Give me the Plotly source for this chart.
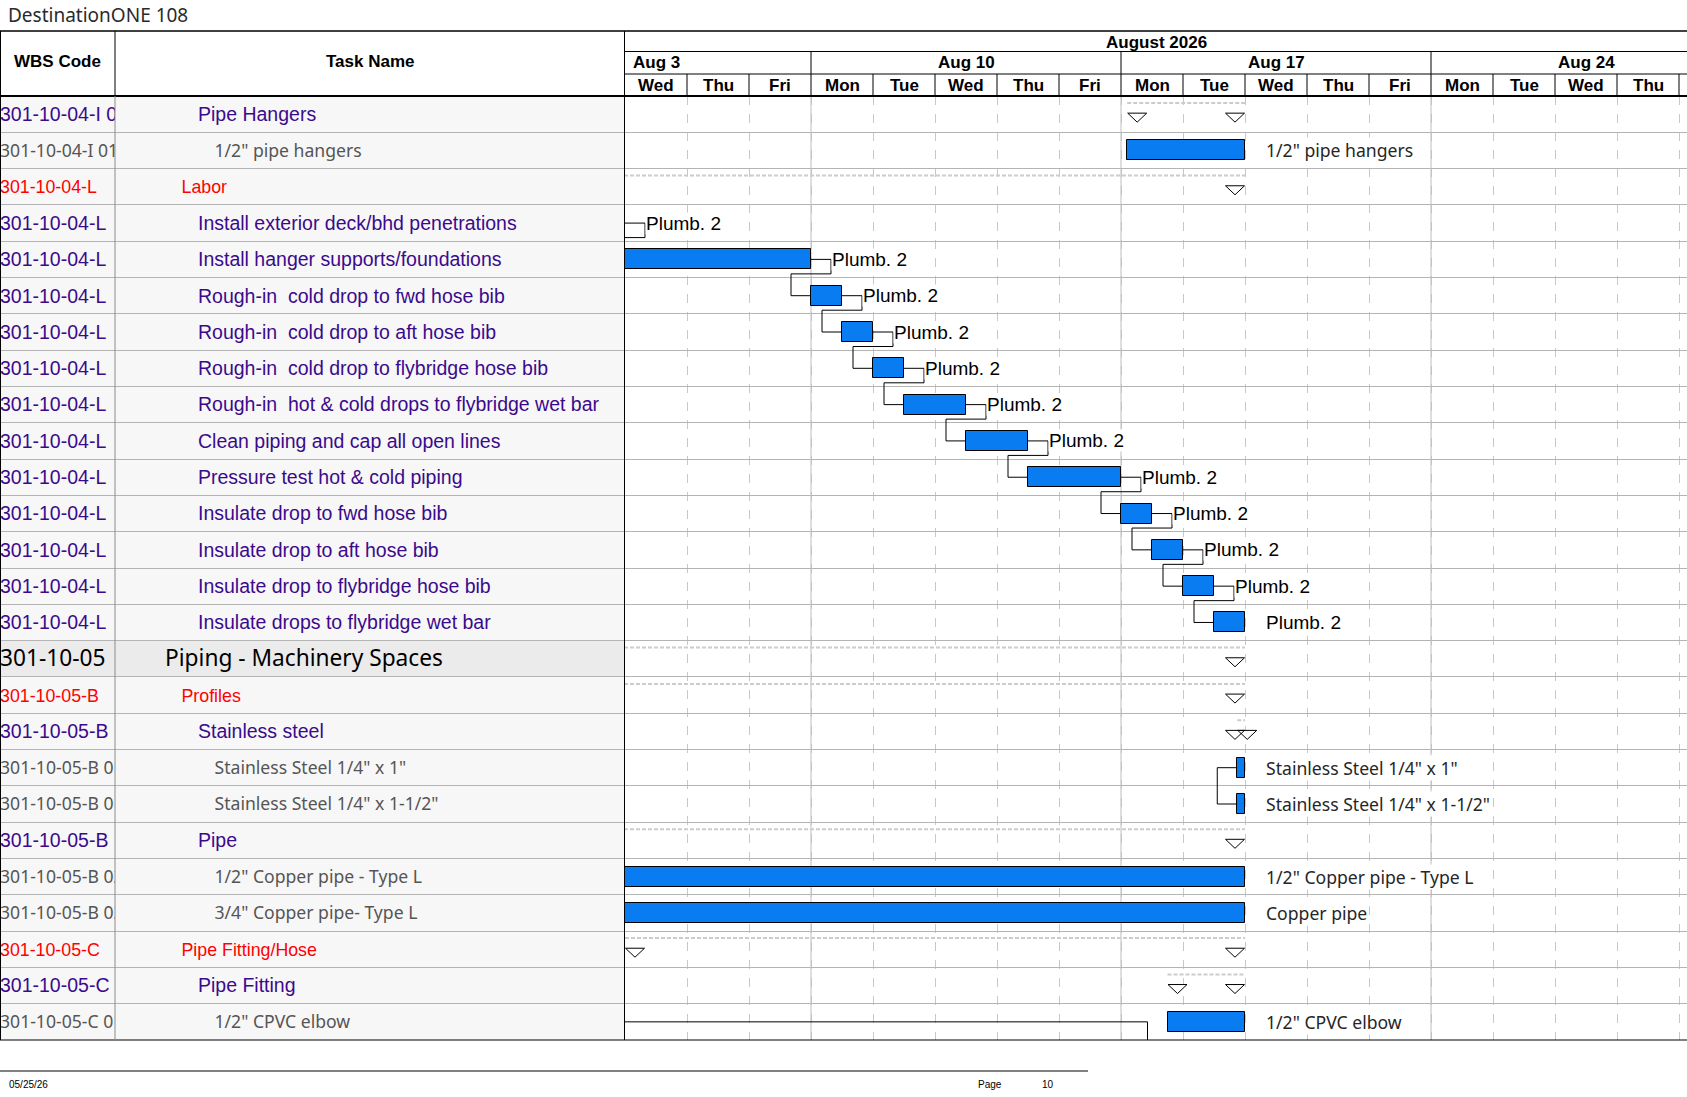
import plotly.graph_objects as go

W, H = 1687, 1097
TOP, BOTTOM = 96, 1040          # rows area in px
WBS_RIGHT, TASK_RIGHT = 115, 625
DAY_PX = 62
N_ROWS = 26
ROW_PX = (BOTTOM - TOP) / N_ROWS

# ---------------- data ----------------
wbs_codes = [
    "301-10-04-I 01", "301-10-04-I 01.1", "301-10-04-L", "301-10-04-L", "301-10-04-L",
    "301-10-04-L", "301-10-04-L", "301-10-04-L", "301-10-04-L", "301-10-04-L",
    "301-10-04-L", "301-10-04-L", "301-10-04-L", "301-10-04-L", "301-10-04-L",
    "301-10-05", "301-10-05-B", "301-10-05-B", "301-10-05-B 01.1", "301-10-05-B 01.2",
    "301-10-05-B", "301-10-05-B 02.1", "301-10-05-B 02.2", "301-10-05-C", "301-10-05-C",
    "301-10-05-C 01.1",
]
task_names = [
    "Pipe Hangers", '1/2" pipe hangers', "Labor",
    "Install exterior deck/bhd penetrations", "Install hanger supports/foundations",
    "Rough-in\u00a0 cold drop to fwd hose bib", "Rough-in\u00a0 cold drop to aft hose bib",
    "Rough-in\u00a0 cold drop to flybridge hose bib", "Rough-in\u00a0 hot & cold drops to flybridge wet bar",
    "Clean piping and cap all open lines", "Pressure test hot & cold piping",
    "Insulate drop to fwd hose bib", "Insulate drop to aft hose bib",
    "Insulate drop to flybridge hose bib", "Insulate drops to flybridge wet bar",
    "Piping - Machinery Spaces", "Profiles", "Stainless steel",
    'Stainless Steel 1/4" x 1"', 'Stainless Steel 1/4" x 1-1/2"', "Pipe",
    '1/2" Copper pipe - Type L', '3/4" Copper pipe- Type L', "Pipe Fitting/Hose",
    "Pipe Fitting", '1/2" CPVC elbow',
]
outline_level = [3, 4, 2, 3, 3, 3, 3, 3, 3, 3, 3, 3, 3, 3, 3, 1, 2, 3, 4, 4, 3, 4, 4, 2, 3, 4]
row_kind = ["summary", "material", "group"] + ["task"] * 12 + [
    "top", "group", "summary", "material", "material", "summary",
    "material", "material", "group", "summary", "material"]

month_label = "August 2026"
week_labels = ["Aug 3", "Aug 10", "Aug 17", "Aug 24"]
day_labels = ["Wed", "Thu", "Fri", "Mon", "Tue", "Wed", "Thu", "Fri", "Mon",
              "Tue", "Wed", "Thu", "Fri", "Mon", "Tue", "Wed", "Thu"]

# task bars, in working days from Wed Aug 5
bar_rows = [1, 3, 4, 5, 6, 7, 8, 9, 10, 11, 12, 13, 14, 18, 19, 21, 22, 25]
bar_start = [8.1, -1.0, 0.0, 3.0, 3.5, 4.0, 4.5, 5.5, 6.5, 8.0, 8.5, 9.0, 9.5,
             9.875, 9.875, -3.0, -3.0, 8.75]
bar_finish = [10.0, 0.0, 3.0, 3.5, 4.0, 4.5, 5.5, 6.5, 8.0, 8.5, 9.0, 9.5, 10.0,
              10.0, 10.0, 10.0, 10.0, 10.0]
bar_labels = ['1/2" pipe hangers'] + ["Plumb. 2"] * 12 + [
    'Stainless Steel 1/4" x 1"', 'Stainless Steel 1/4" x 1-1/2"',
    '1/2" Copper pipe - Type L', "Copper pipe", '1/2" CPVC elbow']

summary_rows = [0, 2, 15, 16, 17, 20, 23, 24]
summary_start = [8.1, -5.0, -5.0, -5.0, 9.875, -3.0, 0.0, 8.75]
summary_finish = [10.0, 10.0, 10.0, 10.0, 10.0, 10.0, 10.0, 10.0]

fs_links = [(3, 4), (4, 5), (5, 6), (6, 7), (7, 8), (8, 9), (9, 10),
            (10, 11), (11, 12), (12, 13), (13, 14)]
ss_links = [(18, 19)]
offpage_links = [25]

# ---------------- styles ----------------
PURPLE = "#3b0a8c"
ARIAL = "Liberation Sans, Arial, sans-serif"
SEGOE = "Noto Sans, Open Sans, sans-serif"
kind_style = {
    "top": (SEGOE, 22.7, "#000000"),
    "group": (ARIAL, 17.8, "#ff0000"),
    "summary": (ARIAL, 19.5, PURPLE),
    "task": (ARIAL, 19.5, PURPLE),
    "material": (SEGOE, 17.6, "#555555"),
}

GAP = 20 / DAY_PX           # link stub / label offset (days)
DROP = 14.5 / ROW_PX        # link drop below bar centre (rows)
TRI_IN = 10 / DAY_PX
TRI_HW = 9.5 / DAY_PX
TEXT_DY = 2 / ROW_PX        # table text sits a little below row centre

xmax = (W - TASK_RIGHT) / DAY_PX


def py(y):
    # paper y is relative to the plot area (between the margins)
    return (BOTTOM - y) / (BOTTOM - TOP)


def px(x):
    return x / W


fig = go.Figure()

# table text
centers = [r + 0.5 + TEXT_DY for r in range(N_ROWS)]
fams = [kind_style[k][0] for k in row_kind]
sizes = [kind_style[k][1] for k in row_kind]
cols = [kind_style[k][2] for k in row_kind]

fig.add_trace(go.Scatter(
    x=[0] * N_ROWS, y=centers, text=wbs_codes, mode="text",
    textposition="middle right", cliponaxis=True, hoverinfo="skip",
    textfont=dict(family=fams, size=sizes, color=cols),
    xaxis="x", yaxis="y", showlegend=False))

indent = [50 + (lv - 1) * 16.5 for lv in outline_level]
fig.add_trace(go.Scatter(
    x=indent, y=centers, text=task_names, mode="text",
    textposition="middle right", cliponaxis=True, hoverinfo="skip",
    textfont=dict(family=fams, size=sizes, color=cols),
    xaxis="x2", yaxis="y", showlegend=False))

# summary dashed lines and triangles
dx, dy, tx, ty = [], [], [], []
for r, s, f in zip(summary_rows, summary_start, summary_finish):
    yl = r + 7 / ROW_PX
    dx += [max(s, -0.5), f, None]
    dy += [yl, yl, None]
    yc = r + 0.5
    top, bot = yc - 1 / ROW_PX, yc + 8 / ROW_PX
    cs = []
    if s >= 0:
        cs.append(s + TRI_IN)
    cs.append(f - TRI_IN)
    for c in cs:
        tx += [c - TRI_HW, c + TRI_HW, c, c - TRI_HW, None]
        ty += [top, top, bot, top, None]

fig.add_trace(go.Scatter(
    x=dx, y=dy, mode="lines", xaxis="x3", yaxis="y", hoverinfo="skip",
    line=dict(color="#cccccc", width=2, dash="4px,2px"), showlegend=False))

# links
bar_of = {r: i for i, r in enumerate(bar_rows)}
lx, ly = [], []
for p, q in fs_links:
    e, yp = bar_finish[bar_of[p]], p + 0.5
    s, yq = bar_start[bar_of[q]], q + 0.5
    lx += [e, e + GAP, e + GAP, s - GAP, s - GAP, s, None]
    ly += [yp, yp, yp + DROP, yp + DROP, yq, yq, None]
for p, q in ss_links:
    s1, yp = bar_start[bar_of[p]], p + 0.5
    s2, yq = bar_start[bar_of[q]], q + 0.5
    lx += [s1, s1 - GAP, s1 - GAP, s2, None]
    ly += [yp, yp, yq, yq, None]
for r in offpage_links:
    s, yc = bar_start[bar_of[r]], r + 0.5
    lx += [-1, s - GAP, s - GAP, None]
    ly += [yc, yc, r + 1.2, None]

fig.add_trace(go.Scatter(
    x=lx, y=ly, mode="lines", xaxis="x3", yaxis="y", hoverinfo="skip",
    line=dict(color="#000000", width=1), showlegend=False))

# bars
fig.add_trace(go.Bar(
    y=[r + 0.5 for r in bar_rows],
    x=[f - s for s, f in zip(bar_start, bar_finish)],
    base=bar_start, orientation="h", width=20 / ROW_PX,
    marker=dict(color="#0a7cf2", line=dict(color="#000000", width=1)),
    xaxis="x3", yaxis="y", hoverinfo="skip", showlegend=False))

fig.add_trace(go.Scatter(
    x=tx, y=ty, mode="lines", fill="toself", fillcolor="#ffffff",
    line=dict(color="#000000", width=1), xaxis="x3", yaxis="y",
    hoverinfo="skip", showlegend=False))

annotations = []
# bar labels
for r, f, lab in zip(bar_rows, bar_finish, bar_labels):
    if row_kind[r] == "task":
        font = dict(family=ARIAL, size=19, color="#000000")
    else:
        font = dict(family=SEGOE, size=17.6, color="#262626")
    annotations.append(dict(
        x=f + GAP, y=r + 0.5, xref="x3", yref="y", text=lab, showarrow=False,
        xanchor="left", yanchor="middle", bgcolor="#ffffff", borderpad=0, font=font))


def note(x, y, text, font, xref="paper", xanchor="center"):
    annotations.append(dict(x=x, y=y, xref=xref, yref="paper", text=text,
                            showarrow=False, xanchor=xanchor, yanchor="middle",
                            font=font))


# header texts
hfont = dict(family=ARIAL, size=17, color="#000000")
note(px(WBS_RIGHT / 2), py(62), "<b>WBS Code</b>", hfont)
note(px((WBS_RIGHT + TASK_RIGHT) / 2), py(62), "<b>Task Name</b>", hfont)
note(xmax / 2, py(42), "<b>%s</b>" % month_label, hfont, xref="x3")
mondays = [i for i, d in enumerate(day_labels) if d == "Mon"]
week_starts = [mondays[0] - 5] + mondays
for ws, lab in zip(week_starts, week_labels):
    note(ws + 2.5, py(62.5), "<b>%s</b>" % lab, hfont, xref="x3")
for i, d in enumerate(day_labels):
    note(i + 0.5, py(85), "<b>%s</b>" % d, hfont, xref="x3")

note(px(6), py(15), "DestinationONE 108",
     dict(family=SEGOE, size=19, color="#2a2a2a"), xanchor="left")
ffont = dict(family="Liberation Sans Narrow, Liberation Sans, sans-serif", size=10,
             color="#000000")
note(px(7), py(1084), "05/25/26", ffont, xanchor="left")
note(px(976), py(1084), "Page", ffont, xanchor="left")
note(px(1040), py(1084), "10", ffont, xanchor="left")

shapes = []


def pline(x0, y0, x1, y1, color="#000000", width=1):
    shapes.append(dict(type="line", xref="paper", yref="paper",
                       x0=px(x0), y0=py(y0), x1=px(x1), y1=py(y1),
                       line=dict(color=color, width=width)))


# table backgrounds
shapes.append(dict(type="rect", xref="paper", yref="y", x0=0, x1=px(TASK_RIGHT),
                   y0=0, y1=N_ROWS, fillcolor="#f7f7f7", line=dict(width=0), layer="below"))
for r, k in enumerate(row_kind):
    if k == "top":
        shapes.append(dict(type="rect", xref="paper", yref="y", x0=0, x1=px(TASK_RIGHT),
                           y0=r, y1=r + 1, fillcolor="#ebebeb", line=dict(width=0),
                           layer="below"))
# week lines in chart
for ws in mondays:
    shapes.append(dict(type="line", xref="x3", yref="y", x0=ws, x1=ws, y0=0, y1=N_ROWS,
                       line=dict(color="#bdbdbd", width=1), layer="between"))

# header frame
pline(0, 31, W, 31, width=1.5)
pline(TASK_RIGHT, 51.5, W, 51.5)
pline(TASK_RIGHT, 74, W, 74)
pline(0, TOP, W, TOP, width=2)
pline(0, BOTTOM, W, BOTTOM)
pline(0.5, 31, 0.5, BOTTOM)
pline(WBS_RIGHT, 31, WBS_RIGHT, TOP)
pline(WBS_RIGHT, TOP, WBS_RIGHT, BOTTOM, color="#8c8c8c")
pline(TASK_RIGHT - 0.5, 31, TASK_RIGHT - 0.5, BOTTOM)
pline(0, 1071, 1088, 1071)
for ws in mondays:
    shapes.append(dict(type="line", xref="x3", yref="paper", x0=ws, x1=ws,
                       y0=py(51.5), y1=py(74), line=dict(color="#000000", width=1)))
for i in range(1, len(day_labels) + 1):
    shapes.append(dict(type="line", xref="x3", yref="paper", x0=i, x1=i,
                       y0=py(74), y1=py(TOP), line=dict(color="#000000", width=1)))

fig.update_layout(
    width=W, height=H, margin=dict(l=0, r=0, t=TOP, b=H - BOTTOM, pad=0),
    paper_bgcolor="#ffffff", plot_bgcolor="rgba(0,0,0,0)",
    showlegend=False, barmode="overlay", bargap=0,
    xaxis=dict(domain=[0, px(WBS_RIGHT)], range=[0, WBS_RIGHT], visible=False,
               fixedrange=True),
    xaxis2=dict(domain=[px(WBS_RIGHT), px(TASK_RIGHT)], range=[0, TASK_RIGHT - WBS_RIGHT],
                visible=False, anchor="y", fixedrange=True),
    xaxis3=dict(domain=[px(TASK_RIGHT), 1], range=[0, xmax], anchor="y",
                tickvals=list(range(len(day_labels) + 1)), showticklabels=False, ticks="",
                showgrid=True, gridcolor="#c8c8c8", griddash="dash", gridwidth=1,
                zeroline=False, showline=False, fixedrange=True),
    yaxis=dict(range=[N_ROWS, 0], tickvals=list(range(N_ROWS + 1)), showticklabels=False,
               ticks="", showgrid=True, gridcolor="#b4b4b4", gridwidth=1, zeroline=False,
               showline=False, fixedrange=True),
    annotations=annotations, shapes=shapes,
)

fig.write_html("out.html", config={"displayModeBar": False},
               post_script="document.body.style.margin='0px';")
